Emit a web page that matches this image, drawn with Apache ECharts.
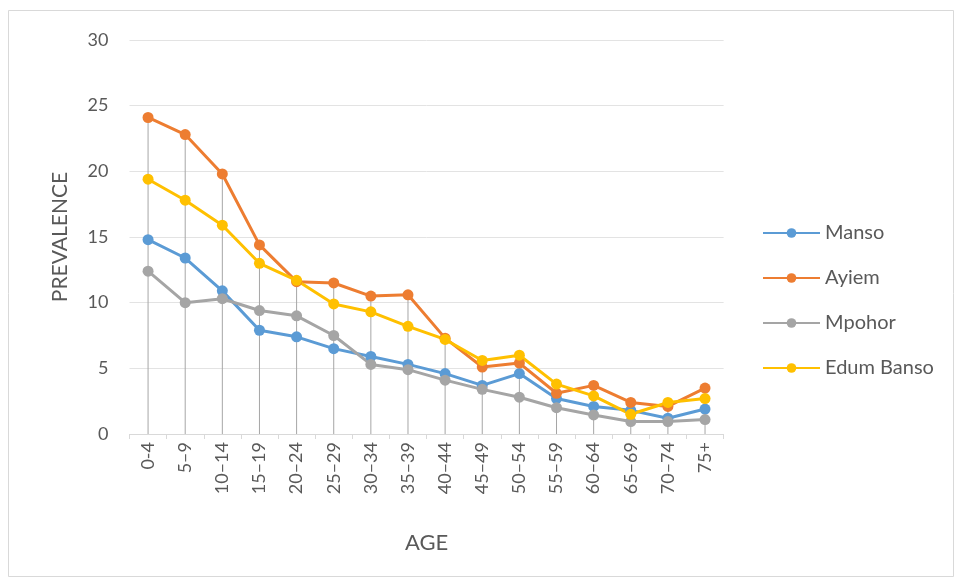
<!DOCTYPE html>
<html>
<head>
<meta charset="utf-8">
<script src="https://cdn.jsdelivr.net/npm/echarts@6/dist/echarts.min.js"></script>
<style>html,body{margin:0;padding:0;background:#fff;}#chart{width:959px;height:581px;}</style>
</head>
<body>
<div id="chart"></div>
<script>
var categories = ["0-4","5–9","10–14","15–19","20–24","25–29","30–34","35–39","40–44","45–49","50–54","55–59","60–64","65–69","70–74","75+"];
var manso = [14.8,13.4,10.9,7.9,7.4,6.5,5.9,5.3,4.6,3.7,4.6,2.7,2.1,1.8,1.2,1.9];
var ayiem = [24.1,22.8,19.8,14.4,11.6,11.5,10.5,10.6,7.3,5.1,5.4,3.1,3.7,2.4,2.1,3.5];
var mpohor = [12.4,10.0,10.3,9.4,9.0,7.5,5.3,4.9,4.1,3.4,2.8,2.0,1.45,0.95,0.95,1.1];
var edumBanso = [19.4,17.8,15.9,13.0,11.7,9.9,9.3,8.2,7.2,5.6,6.0,3.8,2.9,1.5,2.4,2.7];
var yTicks = [0,5,10,15,20,25,30];

var dropLines = categories.map(function(c,i){
  return Math.max(manso[i], ayiem[i], mpohor[i], edumBanso[i]);
});

var chart = echarts.init(document.getElementById('chart'));
var txt = '#595959';
var FONT = 'Lato';
function lineSeries(name, data, color){
  return {
    name: name, type: 'line', data: data,
    symbol: 'circle', symbolSize: 11,
    lineStyle: {width: 3, color: color},
    itemStyle: {color: color},
    z: 3
  };
}
chart.setOption({
  animation: false,
  backgroundColor: '#fff',
  graphic: [{
    type: 'rect', shape: {x: 8.5, y: 10.5, width: 945, height: 566},
    style: {fill: 'none', stroke: '#d9d9d9', lineWidth: 1}, z: -10
  }],
  grid: {left: 129.5, right: 235.4, top: 40, bottom: 147, containLabel: false},
  legend: {
    orient: 'vertical', left: 757, top: 218,
    itemWidth: 57, itemHeight: 12, itemGap: 25,
    textStyle: {color: txt, fontSize: 20, fontFamily: FONT},
    data: ['Manso','Ayiem','Mpohor','Edum Banso']
  },
  xAxis: {
    type: 'category', data: categories, boundaryGap: true,
    name: 'AGE', nameLocation: 'middle', nameGap: 98,
    nameTextStyle: {color: txt, fontSize: 22, fontFamily: FONT},
    axisLine: {lineStyle: {color: '#d9d9d9'}},
    axisTick: {show: true, length: 5, lineStyle: {color: '#d9d9d9'}},
    axisLabel: {rotate: 90, color: txt, fontSize: 18, fontFamily: FONT, margin: 8}
  },
  yAxis: {
    type: 'value', min: 0, max: 30, interval: 5,
    name: 'PREVALENCE', nameLocation: 'middle', nameGap: 59,
    nameTextStyle: {color: txt, fontSize: 21, fontFamily: FONT},
    axisLine: {show: false}, axisTick: {show: false},
    axisLabel: {color: txt, fontSize: 18, fontFamily: FONT, margin: 21,
      formatter: function(v){ return yTicks.indexOf(v) >= 0 ? String(v) : ''; }},
    splitLine: {lineStyle: {color: '#e3e3e3'}}
  },
  series: [
    {name: 'drop', type: 'bar', data: dropLines, barWidth: 1, silent: true,
     itemStyle: {color: '#a6a6a6'}, z: 1, legendHoverLink: false, tooltip: {show: false}},
    lineSeries('Manso', manso, '#5B9BD5'),
    lineSeries('Ayiem', ayiem, '#ED7D31'),
    lineSeries('Mpohor', mpohor, '#A5A5A5'),
    lineSeries('Edum Banso', edumBanso, '#FFC000')
  ]
});
</script>
</body>
</html>
